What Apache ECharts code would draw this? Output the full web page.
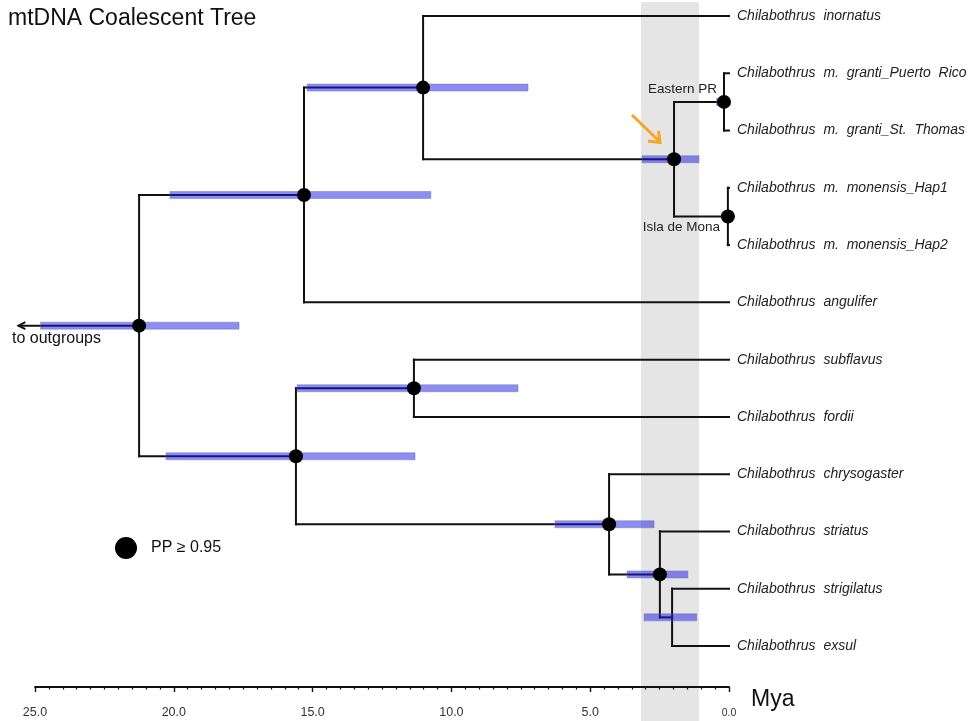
<!DOCTYPE html>
<html>
<head>
<meta charset="utf-8">
<script src="https://cdn.jsdelivr.net/npm/echarts@6/dist/echarts.min.js"></script>
<style>html,body{margin:0;padding:0;background:#fff;}#c{width:969px;height:721px;}</style>
</head>
<body>
<div id="c"></div>
<script>
// ---- data ----
const tipNames = [
  'Chilabothrus  inornatus',
  'Chilabothrus  m.  granti_Puerto  Rico',
  'Chilabothrus  m.  granti_St.  Thomas',
  'Chilabothrus  m.  monensis_Hap1',
  'Chilabothrus  m.  monensis_Hap2',
  'Chilabothrus  angulifer',
  'Chilabothrus  subflavus',
  'Chilabothrus  fordii',
  'Chilabothrus  chrysogaster',
  'Chilabothrus  striatus',
  'Chilabothrus  strigilatus',
  'Chilabothrus  exsul'
];
const tipAges = [0,0,0,0,0,0,0,0,0,0,0,0];
const nodeIds = ['root','A','B','C','D','E','F','G','H','I','J'];
const nodeAges = [21.25, 15.31, 11.02, 1.98, 0.18, 0.04, 15.6, 11.35, 4.32, 2.49, 2.05];
const nodeChildren = [
  ['A','F'], ['B','t5'], ['t0','C'], ['D','E'], ['t1','t2'], ['t3','t4'],
  ['G','H'], ['t6','t7'], ['t8','I'], ['t9','J'], ['t10','t11']
];
const hpdOld   = [24.8, 20.14, 15.2, 3.13, 0.45, null, 20.28, 15.56, 6.27, 3.67, 3.06];
const hpdYoung = [17.65, 10.74, 7.24, 1.08, 0.0, null, 11.31, 7.6, 2.7, 1.48, 1.16];
const nodeSupported = [1,1,1,1,1,1,1,1,1,1,0];
const outgroupStemAge = 25.6;
const bandRange = [3.17, 1.08];

// ---- derived tree geometry (in data units) ----
const pos = {};
tipNames.forEach((n, i) => { pos['t' + i] = { age: tipAges[i], row: i }; });
function rowOf(id) {
  if (pos[id]) return pos[id].row;
  const k = nodeIds.indexOf(id);
  const ch = nodeChildren[k];
  const r = (rowOf(ch[0]) + rowOf(ch[ch.length - 1])) / 2;
  pos[id] = { age: nodeAges[k], row: r };
  return r;
}
nodeIds.forEach(rowOf);

const segments = [];
nodeIds.forEach((id, k) => {
  const p = pos[id];
  const ch = nodeChildren[k];
  segments.push([p.age, rowOf(ch[0]), p.age, rowOf(ch[ch.length - 1])]);
  ch.forEach(c => { segments.push([p.age, pos[c].row, pos[c].age, pos[c].row]); });
});
const hpdData = [];
nodeIds.forEach((id, k) => {
  if (hpdOld[k] !== null) hpdData.push([hpdOld[k], hpdYoung[k], pos[id].row]);
});
const dotData = [];
nodeIds.forEach((id, k) => { if (nodeSupported[k]) dotData.push([pos[id].age, pos[id].row]); });
const tipData = tipNames.map((n, i) => [tipAges[i], i]);

const chart = echarts.init(document.getElementById('c'), null, { renderer: 'canvas' });
const FONT = "'Liberation Sans', Arimo, Arial, sans-serif";

chart.setOption({
  backgroundColor: '#ffffff',
  animation: false,
  grid: { left: 35, right: 240, top: 16, bottom: 75 },
  xAxis: {
    type: 'value', min: 0, max: 25, interval: 5, inverse: true,
    position: 'bottom', offset: 41, z: 5,
    splitLine: { show: false },
    axisLine: { show: true, onZero: false, lineStyle: { color: '#111', width: 1.8 } },
    axisTick: { show: true, length: 5, lineStyle: { color: '#111', width: 1.4 } },
    minorTick: { show: true, splitNumber: 10, length: 2.5, lineStyle: { color: '#111', width: 1.2 } },
    axisLabel: {
      margin: 19, color: '#333',
      fontFamily: FONT,
      fontSize: 12.5,
      formatter: v => v === 0 ? '{s|0.0}' : v.toFixed(1),
      rich: { s: { fontSize: 10.5, color: '#333', fontFamily: FONT, padding: [2, 0, 0, 0] } }
    }
  },
  yAxis: { type: 'value', min: 0, max: 11, inverse: true, show: false },
  graphic: [
    { type: 'text', left: 8, top: 7, style: { text: 'mtDNA Coalescent Tree', font: "23px " + FONT, fill: '#111' } },
    { type: 'text', left: 12, top: 331, style: { text: 'to outgroups', font: "16px " + FONT, fill: '#111' } },
    { type: 'circle', shape: { cx: 126, cy: 548, r: 11 }, style: { fill: '#000' } },
    { type: 'text', left: 151, top: 540, style: { text: 'PP ≥ 0.95', font: "16px " + FONT, fill: '#111' } },
    { type: 'text', left: 751, top: 688, style: { text: 'Mya', font: "23px " + FONT, fill: '#111' } },
    { type: 'text', x: 717, y: 89, style: { text: 'Eastern PR', font: "13.5px " + FONT, fill: '#222', align: 'right', verticalAlign: 'middle' }, z: 20 },
    { type: 'text', x: 720, y: 227, style: { text: 'Isla de Mona', font: "13.5px " + FONT, fill: '#222', align: 'right', verticalAlign: 'middle' }, z: 20 },
    { type: 'line', shape: { x1: 632, y1: 115, x2: 659, y2: 141 }, style: { stroke: '#f5a623', lineWidth: 3 }, z: 20 },
    { type: 'polyline', shape: { points: [[648, 141], [660, 142.5], [658.5, 131]] }, style: { stroke: '#f5a623', lineWidth: 3, fill: null }, z: 20 }
  ],
  series: [
    {
      type: 'custom', z: -1, silent: true, clip: false,
      data: [bandRange],
      renderItem: (params, api) => {
        const a = api.coord([api.value(0), 0])[0];
        const b = api.coord([api.value(1), 0])[0];
        return { type: 'rect', shape: { x: a, y: 2, width: b - a, height: api.getHeight() - 2 }, style: { fill: '#e5e5e5' } };
      }
    },
    {
      type: 'custom', z: 3, silent: true, clip: false,
      data: segments,
      renderItem: (params, api) => {
        const p1 = api.coord([api.value(0), api.value(1)]);
        const p2 = api.coord([api.value(2), api.value(3)]);
        return { type: 'line', shape: { x1: p1[0], y1: p1[1], x2: p2[0], y2: p2[1] }, style: { stroke: '#111', lineWidth: 2, lineCap: 'square' } };
      }
    },
    {
      type: 'custom', z: 3, silent: true, clip: false,
      data: [[nodeAges[0], pos.root.row, outgroupStemAge]],
      renderItem: (params, api) => {
        const p1 = api.coord([api.value(0), api.value(1)]);
        const p2 = api.coord([api.value(2), api.value(1)]);
        return { type: 'group', children: [
          { type: 'line', shape: { x1: p1[0], y1: p1[1], x2: p2[0], y2: p2[1] }, style: { stroke: '#111', lineWidth: 2 } },
          { type: 'polyline', shape: { points: [[p2[0] + 7, p2[1] - 3.5], [p2[0], p2[1]], [p2[0] + 7, p2[1] + 3.5]] }, style: { stroke: '#111', lineWidth: 1.8, fill: null } }
        ] };
      }
    },
    {
      type: 'custom', z: 4, silent: true, clip: false,
      data: hpdData,
      renderItem: (params, api) => {
        const a = api.coord([api.value(0), api.value(2)]);
        const b = api.coord([api.value(1), api.value(2)]);
        return { type: 'rect', shape: { x: a[0], y: a[1] - 3.5, width: b[0] - a[0], height: 7 }, style: { fill: 'rgba(25,25,235,0.5)', stroke: 'rgba(110,110,150,0.55)', lineWidth: 0.8 } };
      }
    },
    {
      type: 'custom', z: 6, silent: true, clip: false,
      data: dotData,
      renderItem: (params, api) => {
        const p = api.coord([api.value(0), api.value(1)]);
        return { type: 'circle', shape: { cx: p[0], cy: p[1], r: 7 }, style: { fill: '#000' } };
      }
    },
    {
      type: 'custom', z: 6, silent: true, clip: false,
      data: tipData,
      renderItem: (params, api) => {
        const p = api.coord([api.value(0), api.value(1)]);
        return { type: 'text', x: p[0] + 8, y: p[1], style: { text: tipNames[params.dataIndex], font: "italic 14px " + FONT, fill: '#222', verticalAlign: 'middle', align: 'left' } };
      }
    }
  ]
});
</script>
</body>
</html>
